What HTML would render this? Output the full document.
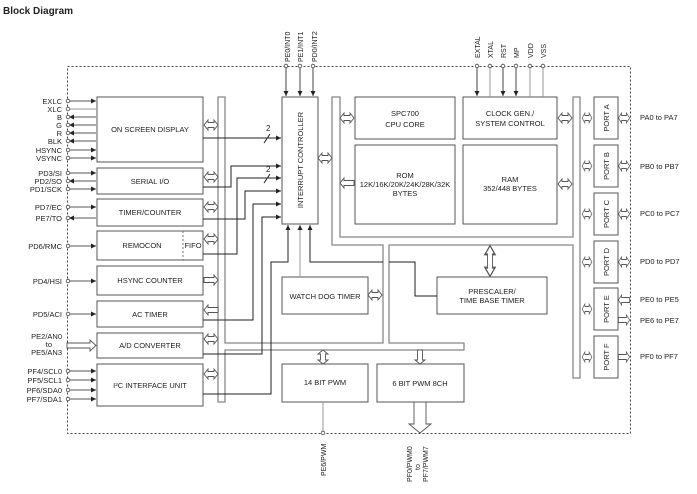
<!DOCTYPE html>
<html><head><meta charset="utf-8"><style>
html,body{margin:0;padding:0;background:#fff;}
svg{display:block;font-family:"Liberation Sans",Arial,sans-serif;}
text{fill:#222;}
</style></head><body>
<svg width="697" height="494" viewBox="0 0 697 494" xmlns="http://www.w3.org/2000/svg">
<defs>
<polygon id="dh" points="-7,0 -3,-5 -3,-2.5 3,-2.5 3,-5 7,0 3,5 3,2.5 -3,2.5 -3,5" fill="#fff" stroke="#555" stroke-width="0.9"/>
<polygon id="sr" points="-7,-2.5 3,-2.5 3,-5 7,0 3,5 3,2.5 -7,2.5" fill="#fff" stroke="#555" stroke-width="0.9"/>
<marker id="ar" markerWidth="6" markerHeight="6" refX="5" refY="3" orient="auto" markerUnits="userSpaceOnUse"><path d="M0,0.5 L5,3 L0,5.5z" fill="#222"/></marker>
</defs>
<text x="3" y="14" font-size="10" font-weight="bold">Block Diagram</text>

<rect x="67.5" y="66.5" width="563" height="367" fill="none" stroke="#444" stroke-dasharray="2,2" stroke-width="1"/>

<polygon points="332,97 340,97 340,237 573,237 573,97 580,97 580,378 573,378 573,245 389,245 389,343 464,343 464,350 225,350 225,402 218,402 218,97 225,97 225,343 383,343 383,245 332,245" fill="#fff" stroke="#888" stroke-width="1.3"/>

<g fill="#fff" stroke="#555" stroke-width="1">
<rect x="97" y="97" width="106" height="65"/>
<rect x="97" y="168" width="106" height="26"/>
<rect x="97" y="199" width="106" height="27"/>
<rect x="97" y="231" width="106" height="29"/>
<rect x="97" y="266" width="106" height="29"/>
<rect x="97" y="301" width="106" height="26"/>
<rect x="97" y="333" width="106" height="25"/>
<rect x="97" y="364" width="106" height="42"/>
<rect x="282" y="97" width="36" height="127"/>
<rect x="355" y="97" width="100" height="42"/>
<rect x="463" y="97" width="94" height="42"/>
<rect x="355" y="145" width="100" height="79"/>
<rect x="463" y="145" width="94" height="79"/>
<rect x="282" y="277" width="86" height="37"/>
<rect x="437" y="277" width="110" height="37"/>
<rect x="282" y="364" width="86" height="38"/>
<rect x="377" y="364" width="87" height="38"/>
<rect x="594" y="97" width="24" height="42"/>
<rect x="594" y="145" width="24" height="42"/>
<rect x="594" y="193" width="24" height="42"/>
<rect x="594" y="241" width="24" height="42"/>
<rect x="594" y="288" width="24" height="42"/>
<rect x="594" y="336" width="24" height="42"/>
</g>
<line x1="183" y1="231" x2="183" y2="260" stroke="#777" stroke-dasharray="2,2"/>

<g fill="none" stroke="#222" stroke-width="1">
<path d="M203,138 H281" marker-end="url(#ar)"/>
<path d="M203,187 H231 V166 H281" marker-end="url(#ar)"/>
<path d="M203,254 H237 V178 H281" marker-end="url(#ar)"/>
<path d="M203,219 H245 V191 H281" marker-end="url(#ar)"/>
<path d="M203,320 H253 V204 H281" marker-end="url(#ar)"/>
<path d="M203,354 H262 V217 H281" marker-end="url(#ar)"/>
<path d="M203,394 H271 V262 H288 V225" marker-end="url(#ar)"/>
<path d="M383,262 H310 V225" marker-end="url(#ar)"/>
<path d="M389,262 H415 V296 H437"/>
<line x1="264" y1="143" x2="270" y2="134"/>
<line x1="264" y1="183" x2="270" y2="174"/>
</g>
<path d="M300,277 V225" stroke="#999" fill="none" marker-end="url(#ar)"/>
<text x="266" y="131" font-size="8">2</text>
<text x="266" y="172" font-size="8">2</text>

<g stroke="#444" fill="none">
<path d="M286,66 V96" marker-end="url(#ar)"/>
<path d="M300,66 V96" marker-end="url(#ar)"/>
<path d="M313,66 V96" marker-end="url(#ar)"/>
<path d="M477,66 V96" marker-end="url(#ar)"/>
<line x1="490" y1="66" x2="490" y2="97" stroke="#999"/>
<path d="M503,66 V96" marker-end="url(#ar)"/>
<path d="M516,66 V96" marker-end="url(#ar)"/>
<line x1="530" y1="66" x2="530" y2="97" stroke="#999"/>
<line x1="543" y1="66" x2="543" y2="97" stroke="#999"/>
<line x1="323" y1="402" x2="323" y2="432" stroke="#999"/>
</g>
<g fill="#fff" stroke="#444" stroke-width="0.8">
<circle cx="286" cy="66" r="1.8"/><circle cx="300" cy="66" r="1.8"/><circle cx="313" cy="66" r="1.8"/>
<circle cx="477" cy="66" r="1.8"/><circle cx="490" cy="66" r="1.8"/><circle cx="503" cy="66" r="1.8"/><circle cx="516" cy="66" r="1.8"/><circle cx="530" cy="66" r="1.8"/><circle cx="543" cy="66" r="1.8"/>
<circle cx="323" cy="433" r="1.8"/>
</g>
<g font-size="7">
<text transform="translate(290,62) rotate(-90)">PE0/INT0</text>
<text transform="translate(303,62) rotate(-90)">PE1/INT1</text>
<text transform="translate(317,62) rotate(-90)">PD0/INT2</text>
<text transform="translate(480,58) rotate(-90)">EXTAL</text>
<text transform="translate(493,58) rotate(-90)">XTAL</text>
<text transform="translate(506,58) rotate(-90)">RST</text>
<text transform="translate(519,58) rotate(-90)">MP</text>
<text transform="translate(533,58) rotate(-90)">VDD</text>
<text transform="translate(546,58) rotate(-90)">VSS</text>
<text transform="translate(326,476) rotate(-90)">PE6/PWM</text>
<text transform="translate(412,482) rotate(-90)">PF0/PWM0</text>
<text transform="translate(420,470) rotate(-90)">to</text>
<text transform="translate(428,482) rotate(-90)">PF7/PWM7</text>
</g>

<g stroke="#555" fill="none">
<path d="M68,101 H96" marker-end="url(#ar)"/>
<path d="M68,109 H96" stroke="#999"/>
<path d="M96,117 H69" marker-end="url(#ar)"/>
<path d="M96,125 H69" marker-end="url(#ar)"/>
<path d="M96,133 H69" marker-end="url(#ar)"/>
<path d="M96,141 H69" marker-end="url(#ar)"/>
<path d="M68,150 H96" marker-end="url(#ar)"/>
<path d="M68,158 H96" marker-end="url(#ar)"/>
<path d="M68,173 H96" marker-end="url(#ar)"/>
<path d="M96,181 H69" marker-end="url(#ar)"/>
<path d="M68,189 H96" marker-end="url(#ar)"/>
<path d="M68,207 H96" marker-end="url(#ar)"/>
<path d="M96,218 H69" marker-end="url(#ar)"/>
<path d="M68,246 H96" marker-end="url(#ar)"/>
<path d="M68,281 H96" marker-end="url(#ar)"/>
<path d="M68,314 H96" marker-end="url(#ar)"/>
<path d="M68,371 H96" marker-end="url(#ar)"/>
<path d="M68,380 H96" marker-end="url(#ar)"/>
<path d="M68,390 H96" marker-end="url(#ar)"/>
<path d="M68,399 H96" marker-end="url(#ar)"/>
</g>
<g fill="#fff" stroke="#444" stroke-width="0.8">
<circle cx="68" cy="101" r="1.8"/><circle cx="68" cy="109" r="1.8"/><circle cx="68" cy="117" r="1.8"/><circle cx="68" cy="125" r="1.8"/><circle cx="68" cy="133" r="1.8"/><circle cx="68" cy="141" r="1.8"/><circle cx="68" cy="150" r="1.8"/><circle cx="68" cy="158" r="1.8"/>
<circle cx="68" cy="173" r="1.8"/><circle cx="68" cy="181" r="1.8"/><circle cx="68" cy="189" r="1.8"/>
<circle cx="68" cy="207" r="1.8"/><circle cx="68" cy="218" r="1.8"/><circle cx="68" cy="246" r="1.8"/><circle cx="68" cy="281" r="1.8"/><circle cx="68" cy="314" r="1.8"/>
<circle cx="68" cy="371" r="1.8"/><circle cx="68" cy="380" r="1.8"/><circle cx="68" cy="390" r="1.8"/><circle cx="68" cy="399" r="1.8"/>
</g>
<polygon points="67,343 90,343 90,340 96,345.5 90,351 90,348 67,348" fill="#fff" stroke="#555" stroke-width="0.9"/>
<g font-size="7.5" text-anchor="end">
<text x="62" y="104">EXLC</text><text x="62" y="112">XLC</text><text x="62" y="120">B</text><text x="62" y="128">G</text><text x="62" y="136">R</text><text x="62" y="144">BLK</text><text x="62" y="153">HSYNC</text><text x="62" y="161">VSYNC</text>
<text x="62" y="176">PD3/SI</text><text x="62" y="184">PD2/SO</text><text x="62" y="192">PD1/SCK</text>
<text x="62" y="210">PD7/EC</text><text x="62" y="221">PE7/TO</text>
<text x="62" y="249">PD6/RMC</text><text x="62" y="284">PD4/HSI</text><text x="62" y="317">PD5/ACI</text>
<text x="62" y="339">PE2/AN0</text><text x="52" y="347">to</text><text x="62" y="355">PE5/AN3</text>
<text x="62" y="374">PF4/SCL0</text><text x="62" y="383">PF5/SCL1</text><text x="62" y="393">PF6/SDA0</text><text x="62" y="402">PF7/SDA1</text>
</g>

<g font-size="7.5" text-anchor="middle">
<text x="150" y="132">ON SCREEN DISPLAY</text>
<text x="150" y="184">SERIAL I/O</text>
<text x="150" y="215">TIMER/COUNTER</text>
<text x="142" y="248">REMOCON</text>
<text x="193" y="248">FIFO</text>
<text x="150" y="283">HSYNC COUNTER</text>
<text x="150" y="317">AC TIMER</text>
<text x="150" y="348">A/D CONVERTER</text>
<text x="150" y="388">I²C INTERFACE UNIT</text>
<text transform="translate(303,160) rotate(-90)">INTERRUPT CONTROLLER</text>
<text x="405" y="116">SPC700</text><text x="405" y="127">CPU CORE</text>
<text x="510" y="116">CLOCK GEN./</text><text x="510" y="126">SYSTEM CONTROL</text>
<text x="405" y="178">ROM</text><text x="405" y="187">12K/16K/20K/24K/28K/32K</text><text x="405" y="196">BYTES</text>
<text x="510" y="182">RAM</text><text x="510" y="191">352/448 BYTES</text>
<text x="325" y="299">WATCH DOG TIMER</text>
<text x="492" y="294">PRESCALER/</text><text x="492" y="303">TIME BASE TIMER</text>
<text x="325" y="385">14 BIT PWM</text>
<text x="420" y="386">6 BIT PWM 8CH</text>
<text transform="translate(609,118) rotate(-90)">PORT A</text>
<text transform="translate(609,166) rotate(-90)">PORT B</text>
<text transform="translate(609,214) rotate(-90)">PORT C</text>
<text transform="translate(609,262) rotate(-90)">PORT D</text>
<text transform="translate(609,309) rotate(-90)">PORT E</text>
<text transform="translate(609,357) rotate(-90)">PORT F</text>
</g>
<g font-size="7.5">
<text x="640" y="120">PA0 to PA7</text>
<text x="640" y="169">PB0 to PB7</text>
<text x="640" y="216">PC0 to PC7</text>
<text x="640" y="264">PD0 to PD7</text>
<text x="640" y="302">PE0 to PE5</text>
<text x="640" y="323">PE6 to PE7</text>
<text x="640" y="359">PF0 to PF7</text>
</g>

<use href="#dh" transform="translate(211,125)"/>
<use href="#dh" transform="translate(211,177)"/>
<use href="#dh" transform="translate(211,207)"/>
<use href="#dh" transform="translate(211,239)"/>
<use href="#sr" transform="translate(211,280)"/>
<use href="#sr" transform="translate(211,310) rotate(180)"/>
<use href="#dh" transform="translate(211,339)"/>
<use href="#dh" transform="translate(211,374)"/>
<use href="#dh" transform="translate(325,158)"/>
<use href="#dh" transform="translate(347,118)"/>
<use href="#sr" transform="translate(347,183) rotate(180)"/>
<use href="#dh" transform="translate(375,295)"/>
<use href="#dh" transform="translate(565,118)"/>
<use href="#dh" transform="translate(565,184)"/>
<use href="#dh" transform="translate(587,118) scale(0.7,1)"/>
<use href="#dh" transform="translate(587,166) scale(0.7,1)"/>
<use href="#dh" transform="translate(587,214) scale(0.7,1)"/>
<use href="#dh" transform="translate(587,262) scale(0.7,1)"/>
<use href="#dh" transform="translate(587,309) scale(0.7,1)"/>
<use href="#dh" transform="translate(587,357) scale(0.7,1)"/>
<use href="#dh" transform="translate(624,118) scale(0.8,1)"/>
<use href="#dh" transform="translate(624,166) scale(0.8,1)"/>
<use href="#dh" transform="translate(624,214) scale(0.8,1)"/>
<use href="#dh" transform="translate(624,262) scale(0.8,1)"/>
<use href="#sr" transform="translate(624,300) rotate(180) scale(0.8,1)"/>
<use href="#sr" transform="translate(624,320) scale(0.8,1)"/>
<use href="#sr" transform="translate(624,357) scale(0.8,1)"/>
<use href="#dh" transform="translate(490,261) rotate(90) scale(2.2,1)"/>
<use href="#dh" transform="translate(323,357) rotate(90)"/>
<use href="#sr" transform="translate(420,357) rotate(90)"/>
<polygon points="414,402 426,402 426,424 431,424 420,433 409,424 414,424" fill="#fff" stroke="#555" stroke-width="0.9"/>
</svg>
</body></html>
